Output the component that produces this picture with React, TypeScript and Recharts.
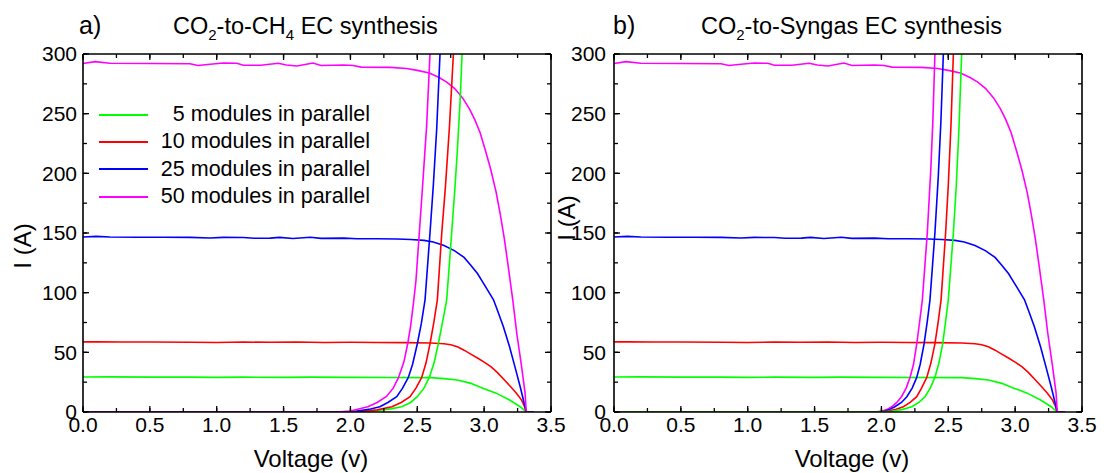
import React from 'react';
import { LineChart, Line, XAxis, YAxis, Legend } from 'recharts';

const FONT = '"Liberation Sans", Arial, Helvetica, sans-serif';

// ---- axis ticks ----
const X_TICKS = [0, 0.5, 1, 1.5, 2, 2.5, 3, 3.5];
const X_MINOR = [0, 0.25, 0.5, 0.75, 1, 1.25, 1.5, 1.75, 2, 2.25, 2.5, 2.75, 3, 3.25, 3.5];
const Y_TICKS = [0, 50, 100, 150, 200, 250, 300];
const Y_MINOR = [0, 25, 50, 75, 100, 125, 150, 175, 200, 225, 250, 275, 300];

// ---- series ----
const SERIES_NAMES = ['5 modules in parallel', '10 modules in parallel', '25 modules in parallel', '50 modules in parallel'];
const COLORS = ['#00ff00', '#ff0000', '#0000ff', '#ff00ff'];

// PV array I-V curves (voltage V, current A) – same in both panels
const PV_5: number[][] = [[0, 29.3], [0.2, 29.4], [0.5, 29.2], [0.8, 29.2], [1.0, 29.0], [1.2, 29.2], [1.5, 29.0], [1.7, 29.2], [2.0, 29.0], [2.3, 28.9], [2.6, 28.8], [2.7, 28.0], [2.8, 26.8], [2.9, 24.0], [2.99, 20.0], [3.09, 15.8], [3.19, 10.0], [3.27, 4.4], [3.315, 0], [3.37, 0]];
const PV_10: number[][] = [[0, 58.8], [0.1, 58.9], [0.3, 58.6], [0.5, 58.7], [0.8, 58.5], [1.0, 58.3], [1.2, 58.6], [1.4, 58.4], [1.6, 58.6], [1.8, 58.3], [2.0, 58.4], [2.2, 58.2], [2.4, 58.1], [2.6, 57.8], [2.7, 57.2], [2.75, 56.3], [2.8, 54.6], [2.85, 51.8], [2.9, 48.5], [2.95, 45.2], [3.0, 41.8], [3.05, 38], [3.1, 33], [3.15, 27], [3.2, 21], [3.24, 16], [3.28, 10], [3.3, 5], [3.315, 0], [3.37, 0]];
const PV_25: number[][] = [[0, 146.6], [0.1, 147.2], [0.2, 146.7], [0.4, 146.5], [0.6, 146.4], [0.8, 146.3], [0.95, 145.8], [1.05, 146.3], [1.2, 146.2], [1.28, 145.6], [1.4, 145.7], [1.47, 146.3], [1.57, 145.4], [1.7, 146.4], [1.78, 145.5], [1.95, 145.7], [2.05, 145.2], [2.2, 145.2], [2.35, 145], [2.45, 144.5], [2.55, 143.8], [2.62, 142.5], [2.7, 139.5], [2.78, 135], [2.85, 129.5], [2.9, 123], [2.95, 116], [3.0, 107], [3.07, 94], [3.1, 85], [3.144, 71.5], [3.19, 54.7], [3.23, 38], [3.27, 21], [3.306, 4.4], [3.315, 0], [3.37, 0]];
const PV_50: number[][] = [[0, 292], [0.09, 293.6], [0.2, 292.3], [0.5, 292], [0.8, 291.8], [0.86, 290.4], [0.95, 291.4], [1.05, 292.4], [1.15, 292.2], [1.2, 290.6], [1.33, 290.6], [1.46, 292.2], [1.52, 290.8], [1.6, 290], [1.72, 292.4], [1.78, 290.4], [1.95, 290.8], [2.02, 290.4], [2.08, 289], [2.3, 288.8], [2.42, 287.8], [2.5, 286.3], [2.59, 284], [2.66, 280.5], [2.72, 276.5], [2.78, 271], [2.84, 263], [2.89, 254], [2.93, 245], [2.97, 234], [3.01, 219], [3.05, 203], [3.09, 184], [3.12, 166], [3.15, 146], [3.18, 122], [3.214, 94], [3.244, 66], [3.28, 38], [3.306, 16], [3.315, 0], [3.37, 0]];

// Electrolyser load curves, panel a (CO2-to-CH4)
const EC_CH4_5: number[][] = [[0, 0], [2.0, 0], [2.1, 0.4], [2.2, 1.2], [2.3, 2.6], [2.384, 4.4], [2.45, 8], [2.5, 12.8], [2.55, 20], [2.59, 29], [2.625, 41], [2.657, 57], [2.69, 76], [2.72, 94], [2.757, 150], [2.78, 185], [2.8, 220], [2.82, 260], [2.835, 300]];
const EC_CH4_10: number[][] = [[0, 0], [2.0, 0], [2.1, 0.8], [2.2, 1.8], [2.31, 4.4], [2.38, 8], [2.446, 12.8], [2.49, 20], [2.533, 29], [2.565, 41], [2.595, 57], [2.625, 76], [2.65, 94], [2.683, 150], [2.71, 188], [2.74, 238], [2.77, 300]];
const EC_CH4_25: number[][] = [[0, 0], [1.95, 0], [2.05, 0.8], [2.15, 2.5], [2.22, 4.4], [2.28, 8], [2.346, 12.8], [2.39, 20], [2.433, 29], [2.465, 40], [2.5, 57], [2.53, 74], [2.558, 94], [2.595, 150], [2.62, 190], [2.645, 237], [2.67, 300]];
const EC_CH4_50: number[][] = [[0, 0], [1.9, 0], [2.0, 0.8], [2.13, 4.4], [2.2, 8], [2.27, 13], [2.32, 20], [2.36, 29], [2.4, 42], [2.428, 57], [2.45, 72], [2.47, 90], [2.49, 110], [2.515, 150], [2.54, 190], [2.57, 240], [2.595, 300]];

// Electrolyser load curves, panel b (CO2-to-Syngas)
const EC_SYN_5: number[][] = [[0, 0], [2.0, 0], [2.08, 0.6], [2.16, 2.2], [2.227, 4.4], [2.28, 8], [2.326, 12.8], [2.365, 20], [2.4, 29], [2.43, 41], [2.458, 57], [2.48, 76], [2.5, 94], [2.538, 150], [2.56, 190], [2.58, 238], [2.6, 300]];
const EC_SYN_10: number[][] = [[0, 0], [1.97, 0], [2.05, 0.8], [2.11, 2.3], [2.164, 4.4], [2.215, 8], [2.264, 12.8], [2.3, 20], [2.339, 29], [2.37, 41], [2.4, 57], [2.425, 76], [2.446, 94], [2.48, 150], [2.5, 190], [2.52, 240], [2.538, 300]];
const EC_SYN_25: number[][] = [[0, 0], [1.95, 0], [2.02, 0.6], [2.06, 2], [2.1, 4.4], [2.15, 8], [2.19, 12.8], [2.23, 20], [2.264, 29], [2.29, 40], [2.319, 57], [2.343, 76], [2.363, 94], [2.4, 150], [2.425, 197], [2.445, 244], [2.463, 300]];
const EC_SYN_50: number[][] = [[0, 0], [1.95, 0], [2.0, 0.6], [2.04, 2], [2.077, 4.4], [2.115, 8], [2.15, 12.8], [2.185, 20], [2.214, 29], [2.24, 40], [2.264, 57], [2.285, 75], [2.306, 94], [2.343, 150], [2.37, 205], [2.385, 245], [2.4, 300]];

const PV_SERIES = [PV_5, PV_10, PV_25, PV_50];
const EC_CH4 = [EC_CH4_5, EC_CH4_10, EC_CH4_25, EC_CH4_50];
const EC_SYN = [EC_SYN_5, EC_SYN_10, EC_SYN_25, EC_SYN_50];

const toPts = (arr: number[][]) => arr.map(([v, i]) => ({ v, i }));

const AXIS_LINE = { stroke: '#000', strokeWidth: 1.6 };
const TICK_LINE = { stroke: '#000', strokeWidth: 1.3 };
const TICK_TEXT = { fill: '#000', fontSize: 21, fontFamily: FONT };
const blank = () => '';
const THIN = 0.01; // mirror axes take (almost) no room, but must have a positive size to be drawn

type PanelProps = {
  left: number;
  width: number;
  marginRight: number;
  ec: number[][][];
  ecOrder: number[];
  yLabelX: number;
  yLabelDy: number;
  xLabelDx: number;
  yTickGap: number;
  showLegend: boolean;
};

function renderLegend() {
  return (
    <div style={{ fontFamily: FONT, fontSize: 21.5, color: '#000' }}>
      {SERIES_NAMES.map((name, k) => (
        <div key={name} style={{ display: 'flex', alignItems: 'center', height: 27.3 }}>
          <div style={{ width: 49, height: 2, background: COLORS[k] }} />
          <div style={{ width: 222, textAlign: 'right', lineHeight: '27.3px', whiteSpace: 'nowrap' }}>{name}</div>
        </div>
      ))}
    </div>
  );
}

function Panel({ left, width, marginRight, ec, ecOrder, yLabelX, yLabelDy, xLabelDx, yTickGap, showLegend }: PanelProps) {
  const xLabel = (p: any) => {
    const vb = p && p.viewBox ? p.viewBox : { x: 83, y: 412, width: 468, height: 61 };
    return (
      <text x={vb.x + vb.width / 2 + xLabelDx} y={vb.y + vb.height - 6} textAnchor="middle" fontSize={24} fontFamily={FONT} fill="#000">
        Voltage (v)
      </text>
    );
  };
  const yLabel = (p: any) => {
    const vb = p && p.viewBox ? p.viewBox : { x: 0, y: 54, width: 83, height: 358 };
    const cx = vb.x + yLabelX;
    const cy = vb.y + vb.height / 2 + yLabelDy;
    return (
      <text x={cx} y={cy} transform={`rotate(-90, ${cx}, ${cy})`} textAnchor="middle" dominantBaseline="central" fontSize={24} fontFamily={FONT} fill="#000">
        I (A)
      </text>
    );
  };
  const mirrorX = { type: 'number' as const, dataKey: 'v', domain: [0, 3.5], allowDataOverflow: true, interval: 0 as const, mirror: true, height: THIN, tickLine: TICK_LINE, tickFormatter: blank };
  const mirrorY = { type: 'number' as const, domain: [0, 300], allowDataOverflow: true, interval: 0 as const, mirror: true, width: THIN, tickLine: TICK_LINE, tickFormatter: blank };
  return (
    <div style={{ position: 'absolute', left, top: 0 }}>
      <LineChart width={width} height={473} margin={{ top: 54, right: marginRight, bottom: 0, left: 0 }}>
        <XAxis xAxisId="x" type="number" dataKey="v" domain={[0, 3.5]} ticks={X_TICKS} interval={0} allowDataOverflow height={61}
          tickLine={false} tickSize={0} tickMargin={5} axisLine={AXIS_LINE} tick={TICK_TEXT}
          tickFormatter={(v: number) => v.toFixed(1)} label={xLabel} />
        <XAxis xAxisId="xb1" {...mirrorX} orientation="bottom" ticks={X_TICKS} tickSize={6} axisLine={false} />
        <XAxis xAxisId="xb2" {...mirrorX} orientation="bottom" ticks={X_MINOR} tickSize={4} axisLine={false} />
        <XAxis xAxisId="xt1" {...mirrorX} orientation="top" ticks={X_TICKS} tickSize={6} axisLine={AXIS_LINE} />
        <XAxis xAxisId="xt2" {...mirrorX} orientation="top" ticks={X_MINOR} tickSize={4} axisLine={false} />

        <YAxis yAxisId="y" type="number" domain={[0, 300]} ticks={Y_TICKS} interval={0} allowDataOverflow width={83}
          tickLine={false} tickSize={0} tickMargin={yTickGap} axisLine={AXIS_LINE} tick={TICK_TEXT} label={yLabel} />
        <YAxis yAxisId="yl1" {...mirrorY} orientation="left" ticks={Y_TICKS} tickSize={6} axisLine={false} />
        <YAxis yAxisId="yl2" {...mirrorY} orientation="left" ticks={Y_MINOR} tickSize={4} axisLine={false} />
        <YAxis yAxisId="yr1" {...mirrorY} orientation="right" ticks={Y_TICKS} tickSize={6} axisLine={AXIS_LINE} />
        <YAxis yAxisId="yr2" {...mirrorY} orientation="right" ticks={Y_MINOR} tickSize={4} axisLine={false} />

        {PV_SERIES.map((s, k) => (
          <Line key={`pv${k}`} xAxisId="x" yAxisId="y" data={toPts(s)} dataKey="i" type="linear" stroke={COLORS[k]}
            strokeWidth={1.6} dot={false} activeDot={false} isAnimationActive={false} legendType="none" />
        ))}
        {ecOrder.map((k) => (
          <Line key={`ec${k}`} xAxisId="x" yAxisId="y" data={toPts(ec[k])} dataKey="i" type="linear" stroke={COLORS[k]}
            strokeWidth={1.6} dot={false} activeDot={false} isAnimationActive={false} legendType="none" />
        ))}
        {showLegend && (
          <Legend layout="vertical" align="center" verticalAlign="middle" content={renderLegend}
            wrapperStyle={{ left: 99, top: 101, width: 275, height: 110 }} />
        )}
      </LineChart>
    </div>
  );
}

function Titles() {
  const base = { fontFamily: FONT, fill: '#000', style: { whiteSpace: 'pre' as const } };
  return (
    <svg width={1104} height={473} style={{ position: 'absolute', left: 0, top: 0, pointerEvents: 'none' }}>
      <text x={79} y={34} fontSize={25} {...base}>a)</text>
      <text x={173} y={34} fontSize={23.5} {...base}>
        CO<tspan dy={6} fontSize={15}>2</tspan><tspan dy={-6}>-to-CH</tspan><tspan dy={6} fontSize={15}>4</tspan><tspan dy={-6}> EC synthesis</tspan>
      </text>
      <text x={613} y={34} fontSize={25} {...base}>b)</text>
      <text x={701} y={34} fontSize={23.5} {...base}>
        CO<tspan dy={6} fontSize={15}>2</tspan><tspan dy={-6}>-to-Syngas EC synthesis</tspan>
      </text>
    </svg>
  );
}

export default function App() {
  return (
    <div style={{ position: 'absolute', left: 0, top: 0, width: 1104, height: 473, background: '#fff', fontFamily: FONT }}>
      <Panel left={0} width={575} marginRight={24} ec={EC_CH4} ecOrder={[0, 1, 2, 3]} yLabelX={22.5} yLabelDy={13} xLabelDx={-6} yTickGap={6} showLegend={true} />
      <Panel left={531} width={573} marginRight={22} ec={EC_SYN} ecOrder={[3, 2, 1, 0]} yLabelX={35} yLabelDy={-15} xLabelDx={4} yTickGap={8} showLegend={false} />
      <Titles />
    </div>
  );
}
